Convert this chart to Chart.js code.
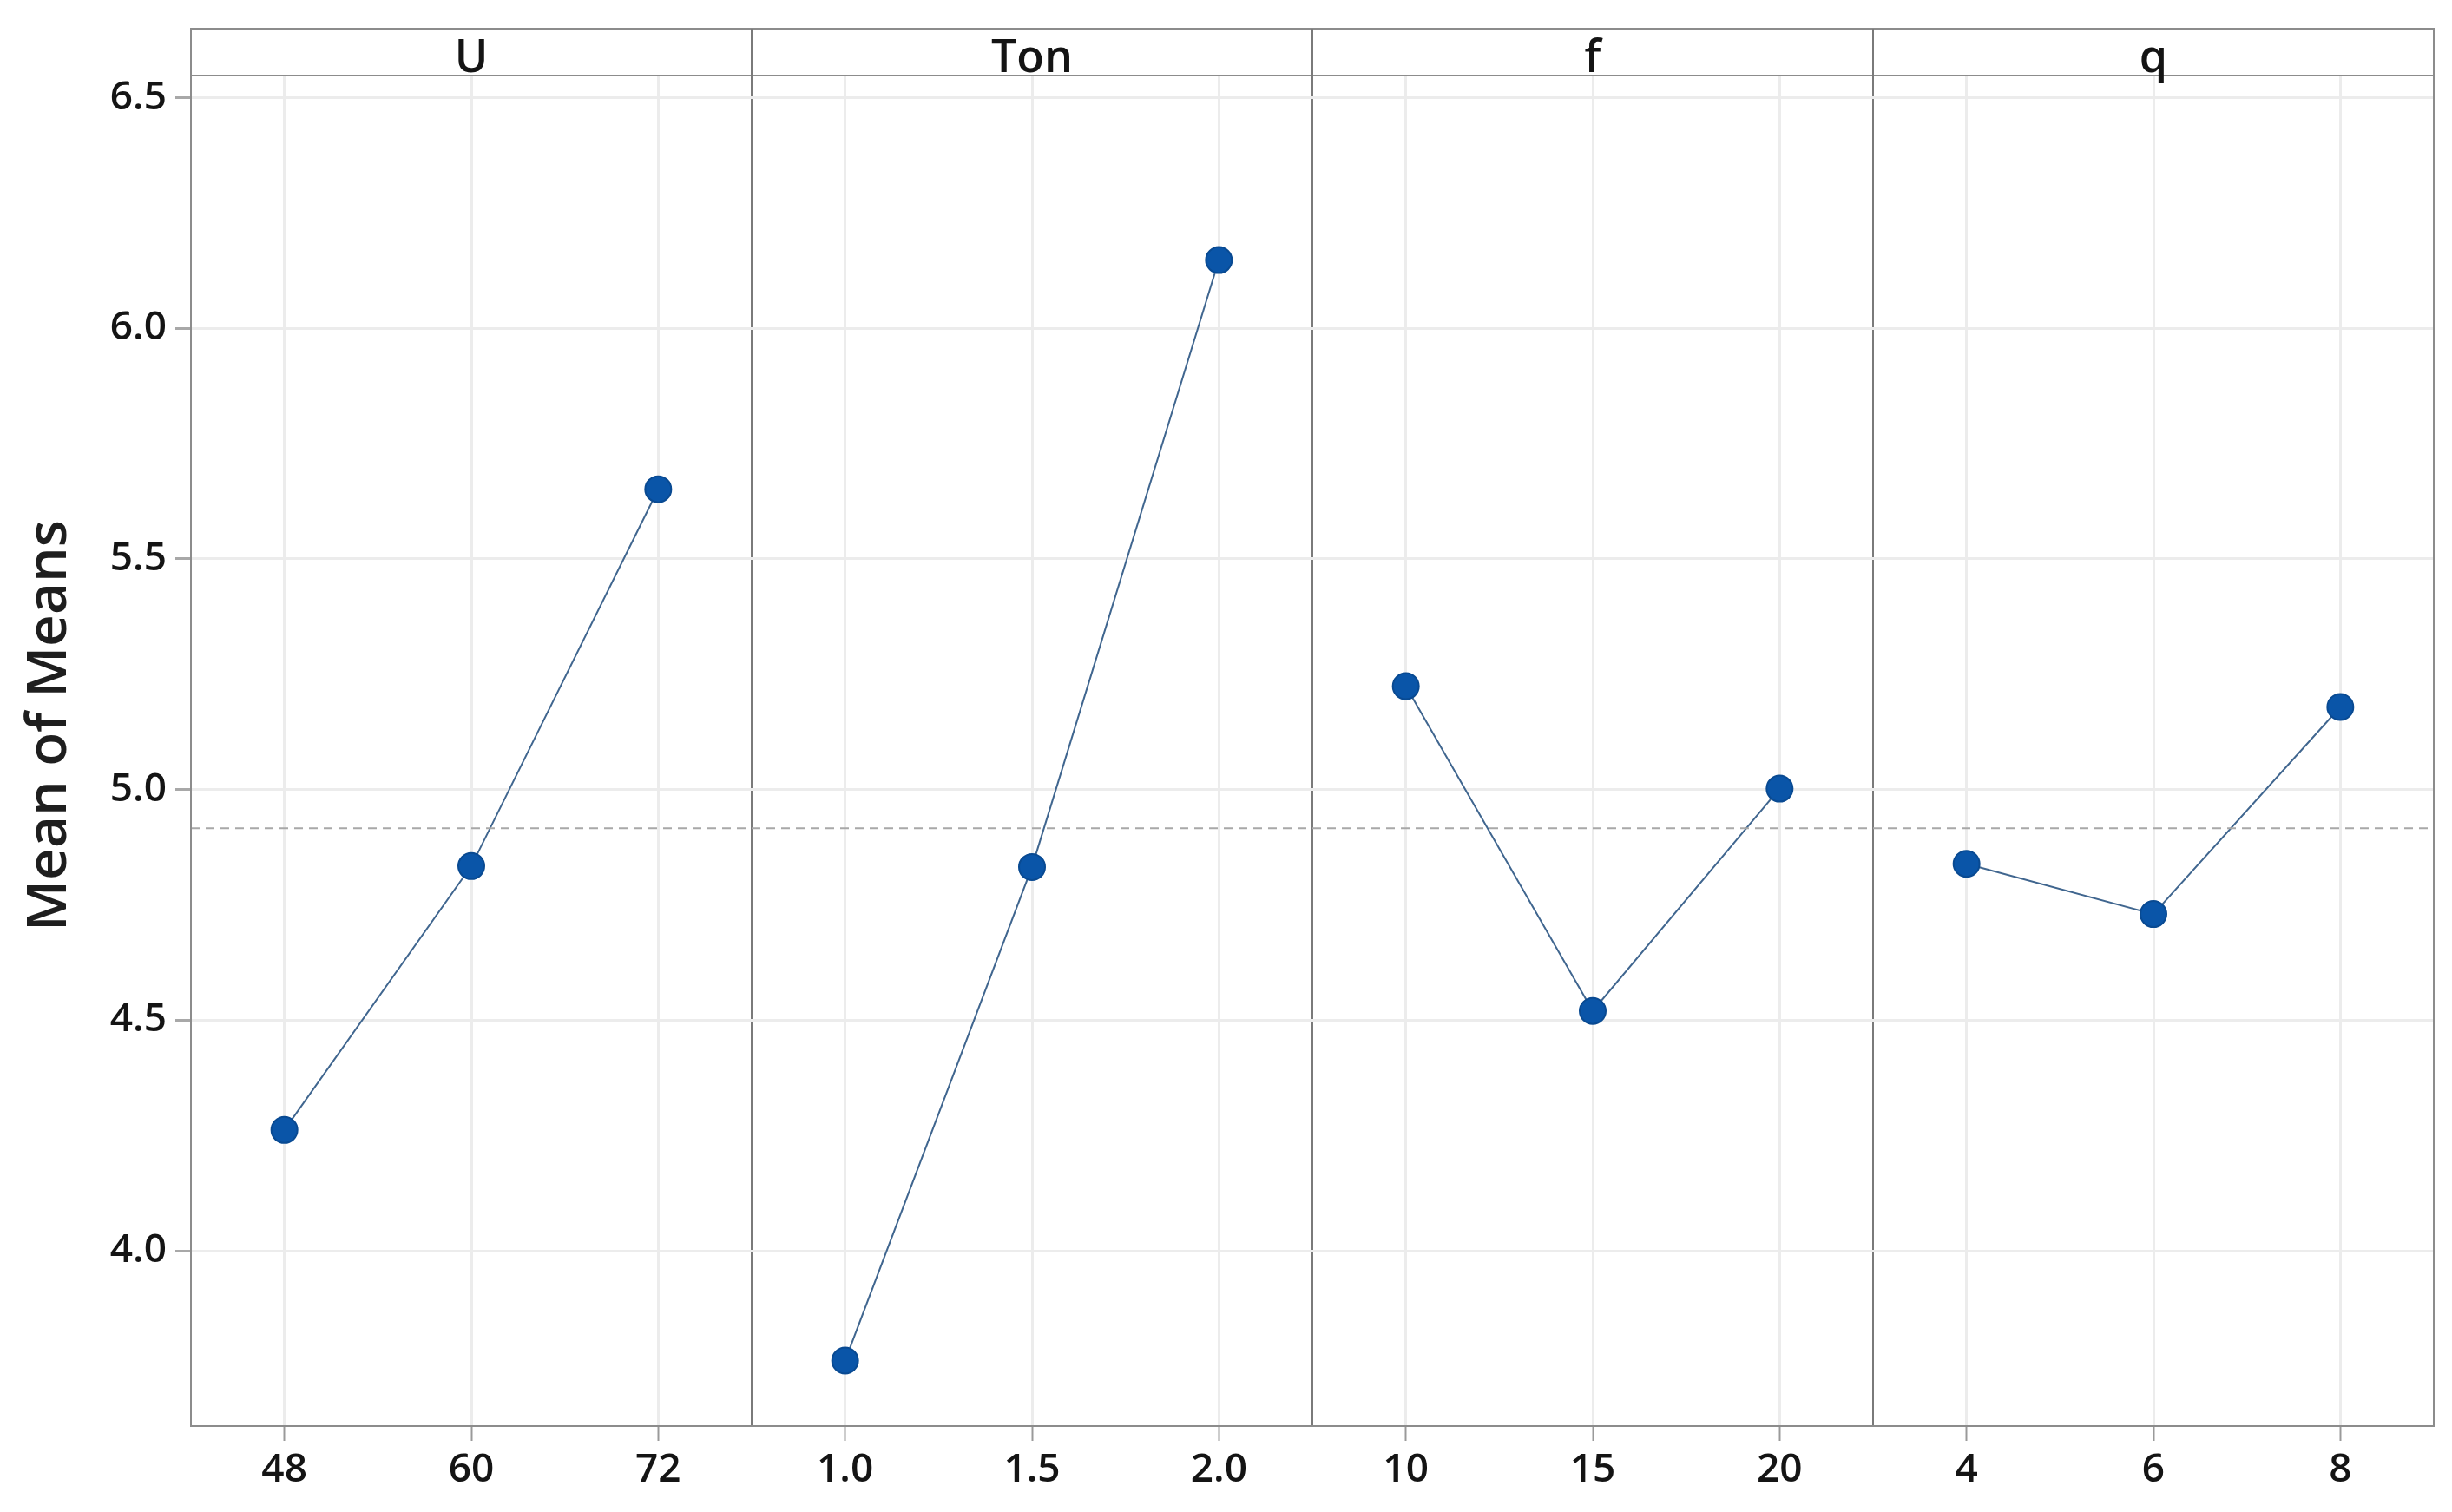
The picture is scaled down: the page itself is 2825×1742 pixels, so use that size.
<!DOCTYPE html>
<html>
<head>
<meta charset="utf-8">
<script src="https://cdn.jsdelivr.net/npm/chart.js@4"></script>
<style>
  html, body { margin: 0; padding: 0; background: #fff; }
  #wrap { width: 2825px; height: 1742px; position: relative; }
</style>
</head>
<body>
<div id="wrap"><canvas id="mainEffects"></canvas></div>
<script>
// main effects plot for means
const factors     = ['U', 'Ton', 'f', 'q'];
const levelLabels = ['48', '60', '72', '1.0', '1.5', '2.0', '10', '15', '20', '4', '6', '8'];
const meansU      = [4.262, 4.834, 5.651];
const meansTon    = [3.762, 4.832, 6.148];
const meansF      = [5.224, 4.520, 5.002];
const meansQ      = [4.839, 4.730, 5.179];
const grandMean   = 4.916;
const yMin = 3.62, yMax = 6.548;

const FONT   = '"Open Sans", "Noto Sans", sans-serif';
const WEIGHT = 600;
const TEXT   = '#141414';
const FRAME  = '#8c8c8c';
const PANEL  = '#7a7a7a';
const GRID   = '#ececec';
const MARKER = '#0a55a8';
const LINE   = '#40668f';
const NONE   = 'rgba(0,0,0,0)';

const allMeans = [meansU, meansTon, meansF, meansQ];

function panelData(means, panel) {
  return means.map((v, j) => ({ x: panel * 3 + j, y: v }));
}

const isHalf    = v => Math.abs(v - Math.round(v)) > 0.01;
const isDivider = v => v > 0 && v < 11 && Math.abs((v + 0.5) % 3) < 0.01;

const framePlugin = {
  id: 'frame',
  afterDraw(chart) {
    const { ctx, chartArea: a, scales: { x } } = chart;
    const headTop = 33;
    ctx.save();
    ctx.strokeStyle = FRAME;
    ctx.lineWidth = 2;
    ctx.strokeRect(a.left, a.top, a.right - a.left, a.bottom - a.top);
    ctx.strokeRect(a.left, headTop, a.right - a.left, a.top - headTop);
    ctx.fillStyle = TEXT;
    ctx.font = WEIGHT + ' 52px ' + FONT;
    ctx.textAlign = 'center';
    ctx.textBaseline = 'alphabetic';
    ctx.strokeStyle = PANEL;
    factors.forEach((name, i) => {
      const l = x.getPixelForValue(i * 3 - 0.5);
      const r = x.getPixelForValue(i * 3 + 2.5);
      if (i < factors.length - 1) {
        ctx.beginPath();
        ctx.moveTo(r, headTop);
        ctx.lineTo(r, a.top);
        ctx.stroke();
      }
      ctx.fillText(name, (l + r) / 2, 83);
    });
    // y axis title
    ctx.translate(58, 836);
    ctx.rotate(-Math.PI / 2);
    ctx.textBaseline = 'middle';
    ctx.font = WEIGHT + ' 64px ' + FONT;
    ctx.fillStyle = '#1e1e1e';
    ctx.fillText('Mean of Means', 0, 0);
    ctx.restore();
  },
};

const datasets = allMeans.map((means, i) => ({
  label: factors[i],
  data: panelData(means, i),
  borderColor: LINE,
  borderWidth: 2,
  pointRadius: 15,
  pointBackgroundColor: MARKER,
  pointBorderColor: '#094a92',
  pointBorderWidth: 2,
  tension: 0,
}));

datasets.unshift({
  label: 'Mean',
  data: [{ x: -0.5, y: grandMean }, { x: 11.5, y: grandMean }],
  borderColor: '#a8a8a8',
  borderWidth: 2,
  borderDash: [10, 7],
  pointRadius: 0,
});

new Chart(document.getElementById('mainEffects'), {
  type: 'line',
  data: { datasets },
  options: {
    responsive: true, maintainAspectRatio: false, animation: false,
    layout: { padding: { top: 87, right: 21, left: 0, bottom: 0 } },
    plugins: { legend: { display: false }, tooltip: { enabled: false } },
    scales: {
      x: {
        type: 'linear', min: -0.5, max: 11.5,
        afterFit: s => { s.height = 99; },
        border: { display: false },
        grid: {
          color: c => (isDivider(c.tick.value) ? PANEL : isHalf(c.tick.value) ? NONE : GRID),
          lineWidth: c => (isHalf(c.tick.value) ? 2 : 3),
          tickLength: 17,
          tickWidth: 2,
          tickColor: c => (isHalf(c.tick.value) ? NONE : '#9a9a9a'),
        },
        ticks: {
          stepSize: 0.5, autoSkip: false, maxRotation: 0, includeBounds: false,
          color: TEXT, font: { size: 46, family: FONT, weight: WEIGHT }, padding: 6,
          callback: v => (isHalf(v) ? '' : levelLabels[Math.round(v)]),
        },
      },
      y: {
        min: yMin, max: yMax,
        afterFit: s => { s.width = 220; },
        border: { display: false },
        grid: { color: GRID, lineWidth: 3, tickLength: 18, tickWidth: 3, tickColor: '#a8a8a8' },
        ticks: {
          stepSize: 0.5, includeBounds: false,
          color: TEXT, font: { size: 46, family: FONT, weight: WEIGHT }, padding: 10,
          callback: v => v.toFixed(1),
        },
      },
    },
  },
  plugins: [framePlugin],
});
</script>
</body>
</html>
